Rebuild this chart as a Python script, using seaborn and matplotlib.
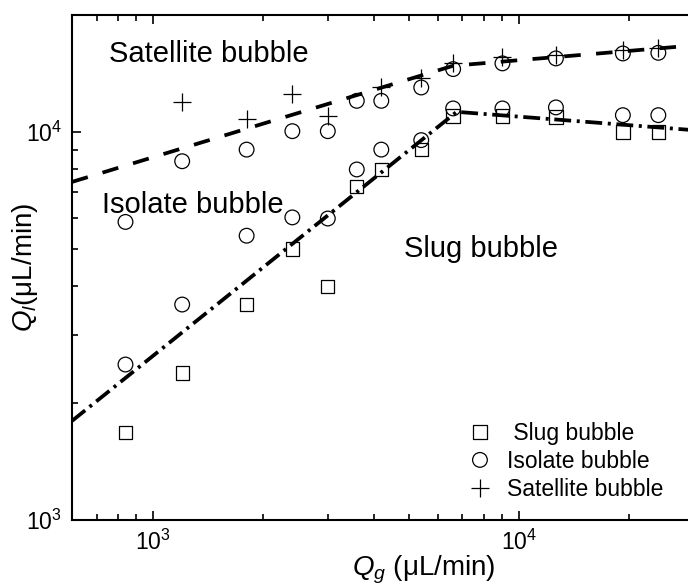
import numpy as np
import pandas as pd
import matplotlib
matplotlib.use("Agg")
import matplotlib.pyplot as plt
from matplotlib.ticker import NullFormatter
import seaborn as sns

# gas flow rates (uL/min)
qg = [840, 1200, 1800, 2400, 3000, 3600, 4200, 5400, 6600, 9000, 12600, 19200, 24000]

# slug bubble points
slug_ql = [1680, 2390, 3590, 4990, 4000, 7220, 8000, 9000, 10980, 10980, 10930, 10000, 10000]

# isolate bubble points (two per gas flow rate)
iso_upper = [5860, 8400, 9000, 10040, 10040, 12020, 12020, 13010, 14510, 15010, 15460, 15920, 15980]
iso_lower = [2515, 3590, 5400, 6020, 5980, 8000, 9000, 9520, 11490, 11490, 11560, 11040, 11040]

# satellite bubble points
sat_qg = [1200, 1800, 2400, 3000, 4200, 5400, 6600, 9000, 12600, 19200, 24000]
sat_ql = [11950, 10780, 12510, 10980, 13060, 13730, 15010, 15610, 15740, 16240, 16400]

# regime boundaries
sat_line_x = [600, 6600, 30000]
sat_line_y = [7430, 14800, 16700]
slug_line_x = [600, 6750, 30000]
slug_line_y = [1800, 11260, 10100]

iso = pd.DataFrame({"qg": qg + qg, "ql": iso_upper + iso_lower})

sns.set_style("ticks")
plt.rcParams['font.family'] = ['Liberation Sans', 'DejaVu Sans']
plt.rcParams['mathtext.fontset'] = 'custom'
plt.rcParams['mathtext.rm'] = 'Liberation Sans'
plt.rcParams['mathtext.it'] = 'Liberation Sans:italic'
plt.rcParams['text.color'] = 'black'
plt.rcParams['axes.labelcolor'] = 'black'
plt.rcParams['axes.edgecolor'] = 'black'

fig = plt.figure(figsize=(6.88, 5.87), dpi=100)
# axes runs past the right edge of the figure, as in the cropped original
ax = fig.add_axes([72 / 688, 67 / 587, 703 / 688, 505 / 587])
ax.set_xscale("log")
ax.set_yscale("log")

sns.scatterplot(x=qg, y=slug_ql, marker="s", s=92, color="none", edgecolor="black",
                linewidth=0.9, label=" Slug bubble", ax=ax, zorder=3)
sns.scatterplot(data=iso, x="qg", y="ql", marker="o", s=112, color="none", edgecolor="black",
                linewidth=0.9, label="Isolate bubble", ax=ax, zorder=3)
sns.scatterplot(x=sat_qg, y=sat_ql, marker="+", s=150, color="black",
                linewidth=0.9, label="Satellite bubble", ax=ax, zorder=3)

sns.lineplot(x=sat_line_x, y=sat_line_y, color="black", lw=2.7,
             linestyle=(0, (4.4, 4.1)), ax=ax, zorder=4)
sns.lineplot(x=slug_line_x, y=slug_line_y, color="black", lw=2.7,
             linestyle=(0, (4.5, 1.5, 0.8, 1.5)), ax=ax, zorder=4)

ax.set_xlim(600, 50000)
ax.set_ylim(1000, 20000)

for sp in ax.spines.values():
    sp.set_linewidth(1.5)
ax.tick_params(which="both", direction="in", top=True, right=True, width=1.2,
               colors="black", labelcolor="black")
ax.tick_params(which="major", length=6.7, labelsize=16.5, pad=7)
ax.tick_params(which="minor", length=4.3)
ax.xaxis.set_minor_formatter(NullFormatter())
ax.yaxis.set_minor_formatter(NullFormatter())

ax.set_xlabel(r"$Q_g$ (μL/min)", fontsize=20)
ax.set_ylabel(r"$Q_l$(μL/min)", fontsize=20)
ax.xaxis.set_label_coords(0.5, -0.067)
ax.yaxis.set_label_coords(-0.046, 0.5)

ax.text(0.053, 0.907, "Satellite bubble", transform=ax.transAxes, fontsize=21, va="baseline")
ax.text(0.042, 0.608, "Isolate bubble", transform=ax.transAxes, fontsize=21, va="baseline")
ax.text(0.472, 0.521, "Slug bubble", transform=ax.transAxes, fontsize=21, va="baseline")

ax.legend(loc="center left", bbox_to_anchor=(0.564, 0.116), frameon=False, fontsize=16.5,
          handlelength=1.0, handletextpad=0.67, labelspacing=0.22, borderpad=0,
          borderaxespad=0, scatteryoffsets=[0.5])

fig.savefig("out.png", dpi=100)
